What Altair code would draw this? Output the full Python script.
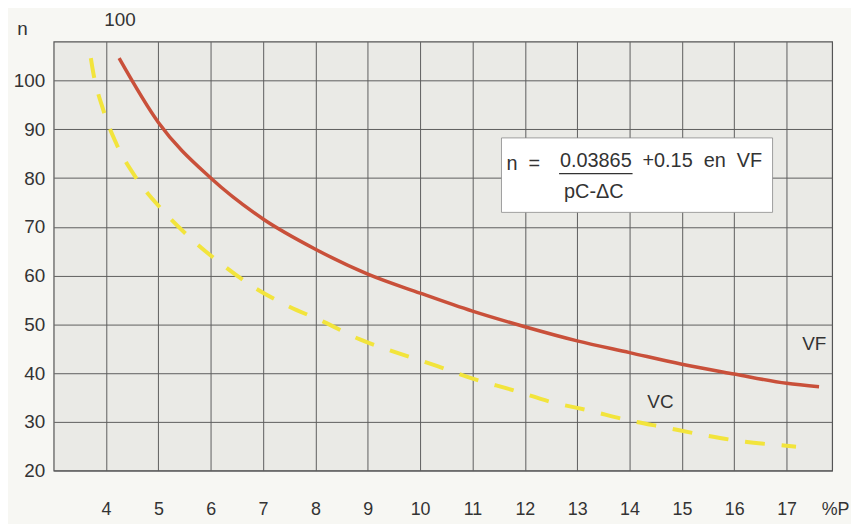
import altair as alt
import pandas as pd

# Data
vf_x = [4.25, 5, 6, 7, 8, 9, 10, 11, 12, 13, 14, 15, 16, 17, 17.62]
vf_n = [104.6, 91.4, 80.0, 71.6, 65.4, 60.3, 56.4, 52.7, 49.5, 46.6, 44.2, 41.8, 39.8, 37.9, 37.2]

vc_x = [3.71, 3.74, 3.95, 4.20, 4.59, 5.07, 5.58, 6.19, 6.81, 7.47, 8.16, 8.85, 9.58, 10.33,
        11.02, 11.77, 12.49, 13.23, 13.94, 14.70, 15.46, 16.20, 16.99, 17.18]
vc_n = [104.6, 102.6, 93.9, 87.0, 79.8, 73.5, 68.0, 62.5, 57.7, 53.8, 50.5, 46.9, 44.1, 41.4,
        38.8, 36.5, 34.1, 32.3, 30.4, 28.8, 27.2, 25.9, 25.1, 24.9]

x_ticks = list(range(4, 18))
y_ticks = list(range(20, 101, 10))

labels = ["VF", "VC"]
label_x = [17.53, 14.59]
label_n = [45.9, 34.1]

FONT = "Liberation Sans"
TXT = "#333333"
NB = "\u00a0"

vf = pd.DataFrame({"x": vf_x, "n": vf_n})
vc = pd.DataFrame({"x": vc_x, "n": vc_n})
lab = pd.DataFrame({"label": labels, "x": label_x, "n": label_n})

xs = alt.Scale(domain=[3, 17.87], nice=False, zero=False)
ys = alt.Scale(domain=[20, 108], nice=False, zero=False)

xax = alt.Axis(values=x_ticks, grid=True, ticks=False, domain=False, labelPadding=30,
               labelFontSize=18, labelColor=TXT, labelFont=FONT,
               title="%P", titleFont=FONT, titleFontSize=18, titleFontWeight="normal",
               titleColor=TXT, titleX=787, titleY=39, titleAlign="center", titleBaseline="middle")
yax = alt.Axis(values=y_ticks, grid=True, ticks=False, domain=False, labelPadding=9,
               labelFontSize=19, labelColor=TXT, labelFont=FONT,
               title="n", titleFont=FONT, titleFontSize=19, titleFontWeight="normal",
               titleColor=TXT, titleAngle=0, titleX=-32, titleY=-13,
               titleAlign="center", titleBaseline="middle")

line_vf = alt.Chart(vf).mark_line(color="#c9503a", strokeWidth=3.5, interpolate="monotone").encode(
    x=alt.X("x:Q", scale=xs, axis=xax),
    y=alt.Y("n:Q", scale=ys, axis=yax),
)
line_vc = alt.Chart(vc).mark_line(color="#f2e43c", strokeWidth=4, strokeDash=[20, 17],
                                  interpolate="monotone").encode(
    x=alt.X("x:Q", scale=xs),
    y=alt.Y("n:Q", scale=ys),
)

text_labels = alt.Chart(lab).mark_text(font=FONT, fontSize=19, color=TXT).encode(
    x=alt.X("x:Q", scale=xs), y=alt.Y("n:Q", scale=ys), text="label:N"
)

# Annotation box with formula (pixel positions within plot area)
box = alt.Chart(pd.DataFrame({"a": [0]})).mark_rect(fill="white", stroke="#8a8a8a", strokeWidth=0.8).encode(
    x=alt.value(451), x2=alt.value(724), y=alt.value(97), y2=alt.value(172)
)
underline = alt.Chart(pd.DataFrame({"a": [0]})).mark_rule(color=TXT, strokeWidth=1.3).encode(
    x=alt.value(509), x2=alt.value(583), y=alt.value(133)
)

def txt(s, px, py, size=20, align="left"):
    return alt.Chart(pd.DataFrame({"t": [s]})).mark_text(
        font=FONT, fontSize=size, color=TXT, align=align, baseline="middle"
    ).encode(x=alt.value(px), y=alt.value(py), text="t:N")

t_n = txt("n" + NB + NB + "=", 456, 123)
t_num = txt("0.03865", 546, 120, align="center")
t_den = txt("pC-\u0394C", 544, 152, align="center")
t_rest = txt("+0.15" + NB + NB + "en" + NB + NB + "VF", 593, 120)
t_100 = txt("100", 51, -22, 19)

chart = alt.layer(
    line_vf, line_vc, text_labels, box, underline, t_n, t_num, t_den, t_rest, t_100
).properties(
    width=784, height=432,
    autosize=alt.AutoSizeParams(type="none"),
    padding={"left": 46, "top": 32, "right": 19, "bottom": 52},
).configure(
    background="#f7f7f3",
).configure_view(
    fill="#eaeae6", stroke="#555555", strokeWidth=1.2
).configure_axis(
    gridColor="#5e5e5e", gridOpacity=1, gridWidth=1
)

chart.save("out.html", embed_options={"renderer": "svg", "actions": False})
